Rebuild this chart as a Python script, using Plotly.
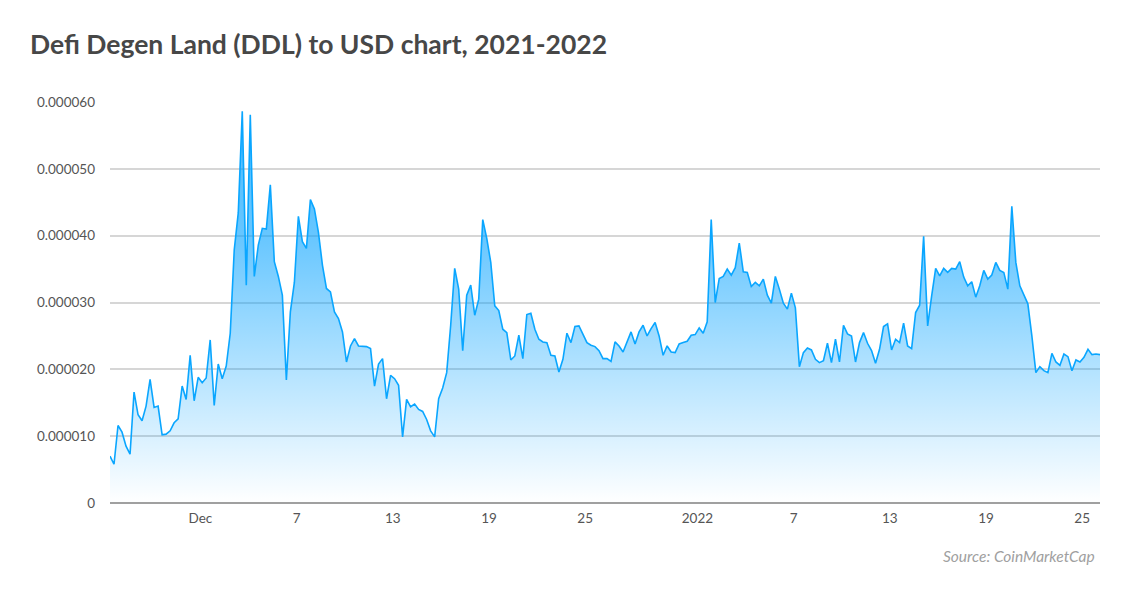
import pandas as pd
import plotly.graph_objects as go

# DDL price in micro-USD (1e-6 USD), sampled every 6 hours from 2021-11-25 08:40
price_micro_usd = [
    7.0, 5.8, 11.6, 10.6, 8.5, 7.3, 16.6, 13.2, 12.3, 14.5,
    18.5, 14.3, 14.5, 10.2, 10.3, 10.8, 12.0, 12.6, 17.5, 15.5,
    22.1, 15.3, 18.8, 18.0, 18.7, 24.4, 14.6, 20.8, 18.6, 20.5,
    25.4, 37.9, 43.4, 58.6, 32.6, 58.1, 33.9, 38.6, 41.1, 41.0,
    47.6, 36.1, 33.9, 31.1, 18.4, 28.6, 33.0, 42.9, 39.1, 38.1,
    45.4, 44.0, 40.5, 35.6, 32.1, 31.6, 28.6, 27.6, 25.6, 21.1,
    23.5, 24.6, 23.5, 23.5, 23.4, 23.1, 17.5, 20.8, 21.6, 15.6,
    19.1, 18.6, 17.6, 9.9, 15.5, 14.4, 14.8, 14.0, 13.7, 12.5,
    10.8, 9.9, 15.6, 17.2, 19.5, 26.6, 35.1, 32.0, 22.8, 31.1,
    32.6, 28.1, 30.5, 42.4, 39.6, 36.0, 29.5, 28.8, 26.0, 25.5,
    21.4, 22.0, 25.1, 21.6, 28.2, 28.4, 26.0, 24.5, 24.1, 24.0,
    22.1, 22.0, 19.6, 21.5, 25.4, 24.0, 26.4, 26.5, 25.2, 24.0,
    23.6, 23.4, 22.8, 21.6, 21.6, 21.2, 24.1, 23.5, 22.6, 24.0,
    25.6, 23.8, 25.6, 26.6, 25.0, 26.1, 27.0, 25.0, 22.1, 23.5,
    22.6, 22.5, 23.8, 24.0, 24.2, 25.1, 25.2, 26.2, 25.4, 27.1,
    42.4, 30.0, 33.6, 33.9, 35.0, 34.1, 35.2, 38.9, 34.6, 34.5,
    32.4, 33.0, 32.5, 33.5, 31.1, 29.9, 33.9, 32.0, 29.9, 29.0,
    31.4, 29.2, 20.4, 22.5, 23.2, 22.9, 21.5, 21.0, 21.3, 23.9,
    21.0, 24.5, 21.1, 26.6, 25.3, 25.0, 21.1, 24.0, 25.5, 23.9,
    22.8, 20.9, 23.0, 26.4, 26.8, 22.9, 24.5, 24.0, 26.9, 23.5,
    23.1, 28.5, 29.6, 39.9, 26.5, 31.0, 35.1, 34.0, 35.1, 34.5,
    35.1, 35.0, 36.1, 33.8, 32.5, 33.1, 30.8, 32.5, 34.8, 33.5,
    34.1, 36.0, 34.8, 34.5, 32.0, 44.4, 36.0, 32.5, 31.2, 29.8,
    25.0, 19.5, 20.4, 19.8, 19.5, 22.4, 21.1, 20.6, 22.3, 21.9,
    19.8, 21.4, 21.1, 21.8, 23.0, 22.2, 22.3, 22.2,
]
start_time = "2021-11-25 08:40"
sample_freq = "6h"

x_tick_dates = ["2021-12-01", "2021-12-07", "2021-12-13", "2021-12-19", "2021-12-25",
                "2022-01-01", "2022-01-07", "2022-01-13", "2022-01-19", "2022-01-25"]
x_tick_labels = ["Dec", "7", "13", "19", "25", "2022", "7", "13", "19", "25"]
y_tick_values = [0, 0.00001, 0.00002, 0.00003, 0.00004, 0.00005, 0.00006]
y_tick_labels = ["0", "0.000010", "0.000020", "0.000030", "0.000040", "0.000050", "0.000060"]

title_text = "Defi Degen Land (DDL) to USD chart, 2021-2022"
source_text = "Source: CoinMarketCap"

dates = pd.date_range(start_time, periods=len(price_micro_usd), freq=sample_freq)
prices = [v * 1e-6 for v in price_micro_usd]

fig = go.Figure()
fig.add_trace(go.Scatter(
    x=dates, y=prices, mode="lines",
    line=dict(color="#0aa6ff", width=1.6),
    fill="tozeroy",
    fillgradient=dict(
        type="vertical",
        colorscale=[[0, "rgba(0,160,255,0.0)"], [0.67, "rgba(0,160,255,0.6)"], [1, "rgba(0,160,255,0.72)"]],
        start=0, stop=0.00006,
    ),
    hoverinfo="skip", showlegend=False,
))

W, H = 1124, 576
fig.update_layout(
    width=W, height=H,
    paper_bgcolor="white", plot_bgcolor="white",
    margin=dict(l=102, r=32, t=94, b=81),
    font=dict(family="Lato, sans-serif", color="#555555", size=13),
    title=dict(text="<b>" + title_text + "</b>", x=22 / W, xanchor="left", y=1 - 37 / H, yanchor="middle",
               font=dict(family="Lato, sans-serif", size=26.5, color="#474747")),
    xaxis=dict(
        range=[dates[0], dates[-1]],
        tickvals=x_tick_dates, ticktext=x_tick_labels,
        showgrid=False, showline=False, zeroline=False, ticks="",
        ticklabelstandoff=5,
        tickfont=dict(size=13.5, color="#555555"),
    ),
    yaxis=dict(
        range=[0, 0.00006],
        tickvals=y_tick_values, ticktext=y_tick_labels,
        showgrid=True, gridcolor="#d6d6d6", gridwidth=1.5,
        zeroline=True, zerolinecolor="#a0a0a0", zerolinewidth=2,
        showline=False, ticks="", ticklabelstandoff=14,
        tickfont=dict(size=13.5, color="#555555"),
    ),
    annotations=[dict(
        text="<i>" + source_text + "</i>", xref="paper", yref="paper",
        x=0.997, y=-0.132, xanchor="right", yanchor="middle", showarrow=False,
        font=dict(family="Lato, sans-serif", size=15.5, color="#a0a0a0"),
    )],
)

fig.write_html("out.html")
